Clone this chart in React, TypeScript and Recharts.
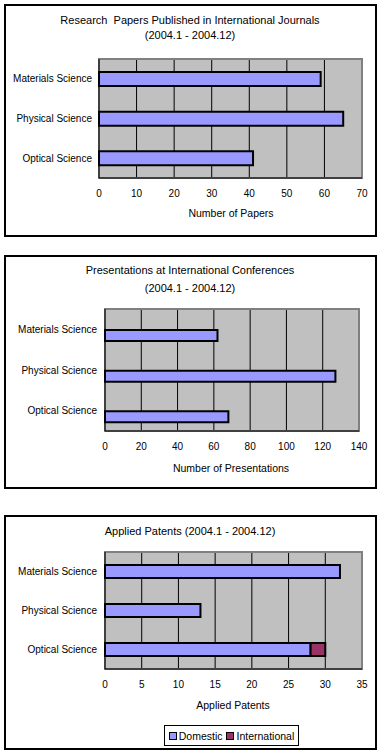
import React from 'react';
import { BarChart, Bar, XAxis, YAxis, CartesianGrid, ReferenceArea } from 'recharts';

const categories = ['Materials Science', 'Physical Science', 'Optical Science'];

const papersValues = [59, 65, 41];
const papersTicks = [0, 10, 20, 30, 40, 50, 60, 70];

const presentationValues = [62, 127, 68];
const presentationTicks = [0, 20, 40, 60, 80, 100, 120, 140];

const patentDomestic = [32, 13, 28];
const patentInternational = [0, 0, 2];
const patentTicks = [0, 5, 10, 15, 20, 25, 30, 35];

const seriesNames = ['Domestic', 'International'];
const seriesColors = ['#9999FF', '#993366'];

const FONT = '"Liberation Sans", Arial, sans-serif';

const papersData = categories.map((c, i) => ({ name: c, value: papersValues[i] }));
const presentationData = categories.map((c, i) => ({ name: c, empty: null, value: presentationValues[i] }));
const patentData = categories.map((c, i) => ({ name: c, domestic: patentDomestic[i], international: patentInternational[i] || null }));

const tickStyle = { fontSize: 10, fill: '#000', fontFamily: FONT };

const CatTick = (props: any) => {
  const { x, y, payload } = props;
  return (
    <text x={x} y={y} dy="0.355em" textAnchor="end" fontSize={10} fill="#000" fontFamily={FONT}>
      {payload.value}
    </text>
  );
};

const Txt = ({ x, y, size = 10, children }: { x: number; y: number; size?: number; children: React.ReactNode }) => (
  <div
    style={{
      position: 'absolute',
      left: x - 150,
      width: 300,
      top: y - 7,
      height: 14,
      lineHeight: '14px',
      textAlign: 'center',
      fontSize: size,
      fontFamily: FONT,
      color: '#000',
      whiteSpace: 'nowrap',
    }}
  >
    {children}
  </div>
);

const Box = ({ top, bottom }: { top: number; bottom: number }) => (
  <div
    style={{
      position: 'absolute',
      left: 4,
      top,
      width: 377 - 4 - 4,
      height: bottom - top - 4,
      border: '2px solid #000',
    }}
  />
);

function grid() {
  return (
    <CartesianGrid horizontal={false} vertical={true} stroke="#000" strokeWidth={1} fill="#C0C0C0" fillOpacity={1} />
  );
}

export default function App() {
  return (
    <div style={{ position: 'absolute', left: 0, top: 0, width: 383, height: 756, background: '#fff' }}>
      <Box top={4} bottom={237} />
      <Box top={255} bottom={489} />
      <Box top={515} bottom={750} />

      {/* Panel 1 */}
      <Txt x={190} y={20} size={11}>Research&nbsp;&nbsp;Papers Published in International Journals</Txt>
      <Txt x={190} y={35} size={11}>(2004.1 - 2004.12)</Txt>
      <div style={{ position: 'absolute', left: 0, top: 0 }}>
        <BarChart
          width={383}
          height={240}
          data={papersData}
          layout="vertical"
          margin={{ top: 59, right: 21, left: 4, bottom: 32 }}
          barSize={14}
        >
          {grid()}
          <ReferenceArea x1={0} x2={70} fill="none" stroke="#808080" strokeWidth={2} ifOverflow="visible" />
          <XAxis
            type="number"
            domain={[0, 70]}
            ticks={papersTicks}
            height={30}
            tickSize={0}
            tickMargin={12}
            axisLine={{ stroke: '#000' }}
            tick={tickStyle}
            interval={0}
          />
          <YAxis
            type="category"
            dataKey="name"
            width={95}
            tickSize={0}
            tickMargin={7}
            axisLine={{ stroke: '#000' }}
            tick={<CatTick />}
            interval={0}
          />
          <Bar dataKey="value" fill="#9999FF" stroke="#000" strokeWidth={2} isAnimationActive={false} />
        </BarChart>
      </div>
      <Txt x={231} y={213} size={10.5}>Number of Papers</Txt>

      {/* Panel 2 */}
      <Txt x={190} y={270} size={11}>Presentations at International Conferences</Txt>
      <Txt x={190} y={288} size={11}>(2004.1 - 2004.12)</Txt>
      <div style={{ position: 'absolute', left: 0, top: 240 }}>
        <BarChart
          width={383}
          height={250}
          data={presentationData}
          layout="vertical"
          margin={{ top: 69, right: 24, left: 5, bottom: 29 }}
          barSize={11}
          barGap={1}
        >
          {grid()}
          <ReferenceArea x1={0} x2={140} fill="none" stroke="#808080" strokeWidth={2} ifOverflow="visible" />
          <XAxis
            type="number"
            domain={[0, 140]}
            ticks={presentationTicks}
            height={30}
            tickSize={0}
            tickMargin={12}
            axisLine={{ stroke: '#000' }}
            tick={tickStyle}
            interval={0}
          />
          <YAxis
            type="category"
            dataKey="name"
            width={100}
            tickSize={0}
            tickMargin={8}
            axisLine={{ stroke: '#000' }}
            tick={<CatTick />}
            interval={0}
          />
          <Bar dataKey="empty" fill="#993366" isAnimationActive={false} />
          <Bar dataKey="value" fill="#9999FF" stroke="#000" strokeWidth={2} isAnimationActive={false} />
        </BarChart>
      </div>
      <Txt x={231} y={468} size={10.5}>Number of Presentations</Txt>

      {/* Panel 3 */}
      <Txt x={190} y={531} size={11}>Applied Patents (2004.1 - 2004.12)</Txt>
      <div style={{ position: 'absolute', left: 0, top: 490 }}>
        <BarChart
          width={383}
          height={266}
          data={patentData}
          layout="vertical"
          margin={{ top: 62, right: 21, left: 5, bottom: 57 }}
          barSize={13}
        >
          {grid()}
          <ReferenceArea x1={0} x2={35} fill="none" stroke="#808080" strokeWidth={2} ifOverflow="visible" />
          <XAxis
            type="number"
            domain={[0, 35]}
            ticks={patentTicks}
            height={30}
            tickSize={0}
            tickMargin={12}
            axisLine={{ stroke: '#000' }}
            tick={tickStyle}
            interval={0}
          />
          <YAxis
            type="category"
            dataKey="name"
            width={100}
            tickSize={0}
            tickMargin={8}
            axisLine={{ stroke: '#000' }}
            tick={<CatTick />}
            interval={0}
          />
          <Bar dataKey="domestic" stackId="a" fill={seriesColors[0]} stroke="#000" strokeWidth={2} isAnimationActive={false} />
          <Bar dataKey="international" stackId="a" fill={seriesColors[1]} stroke="#000" strokeWidth={2} isAnimationActive={false} />
        </BarChart>
      </div>
      <Txt x={233} y={705} size={10.5}>Applied Patents</Txt>

      {/* Legend */}
      <div
        style={{
          position: 'absolute',
          left: 164,
          top: 725,
          width: 135,
          height: 21,
          boxSizing: 'border-box',
          border: '1px solid #000',
          display: 'flex',
          alignItems: 'center',
          justifyContent: 'center',
          fontFamily: FONT,
          fontSize: 10.5,
          color: '#000',
          gap: 4,
        }}
      >
        {seriesNames.map((n, i) => (
          <span key={n} style={{ display: 'flex', alignItems: 'center' }}>
            <span
              style={{
                display: 'inline-block',
                width: 6,
                height: 6,
                background: seriesColors[i],
                border: '1px solid #000',
                marginRight: 2,
              }}
            />
            {n}
          </span>
        ))}
      </div>
    </div>
  );
}
